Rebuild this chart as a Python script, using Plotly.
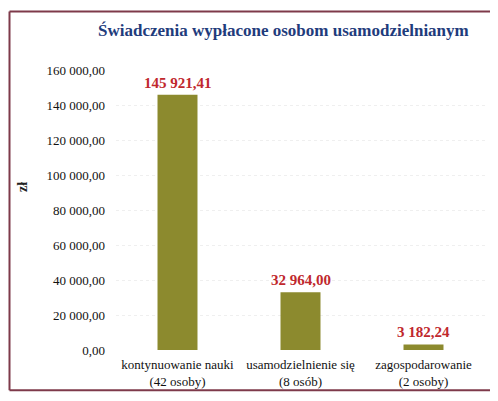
import plotly.graph_objects as go

categories = ["kontynuowanie nauki<br>(42 osoby)", "usamodzielnienie się<br>(8 osób)", "zagospodarowanie<br>(2 osoby)"]
values = [145921.41, 32964.00, 3182.24]
value_labels = ["145 921,41", "32 964,00", "3 182,24"]
tick_vals = [0, 20000, 40000, 60000, 80000, 100000, 120000, 140000, 160000]
tick_text = ["0,00", "20 000,00", "40 000,00", "60 000,00", "80 000,00", "100 000,00", "120 000,00", "140 000,00", "160 000,00"]

# the page body has a default 8px margin, so the figure is drawn 8px in from the window edge
OFF = 8
W, H = 498 - OFF, 401 - OFF
ML, MR, MT, MB = 116 - OFF, 13, 70 - OFF, 46
pw, ph = W - ML - MR, H - MT - MB

def px_to_paper_x(x):
    return (x - OFF - ML) / pw

def px_to_paper_y(y):
    return (H - MB - (y - OFF)) / ph

serif = "Liberation Serif"

fig = go.Figure()
fig.add_trace(go.Bar(
    x=categories, y=values,
    marker=dict(color="#8C8A2E", line=dict(width=0)),
    width=0.325,
    hoverinfo="skip",
))

for c, v, t in zip(categories, values, value_labels):
    fig.add_annotation(x=c, y=v, text=f"<b>{t}</b>", showarrow=False,
                       yanchor="bottom", yshift=2,
                       font=dict(family=serif, size=15, color="#C0282D"))

# outer frame
fx0, fx1 = px_to_paper_x(9.5), px_to_paper_x(494)
fy0, fy1 = px_to_paper_y(396), px_to_paper_y(10.5)
frame_line = dict(color="#7E3A4A", width=2)
for (a, b, c, d) in [(fx0, fy1, fx1, fy1), (fx0, fy0, fx1, fy0), (fx0, fy0, fx0, fy1), (fx1, fy0, fx1, fy1)]:
    fig.add_shape(type="line", xref="paper", yref="paper", x0=a, y0=b, x1=c, y1=d,
                  line=frame_line, layer="above")

fig.add_annotation(xref="paper", yref="paper",
                   x=px_to_paper_x(283), y=px_to_paper_y(30),
                   text="<b>Świadczenia wypłacone osobom usamodzielnianym</b>",
                   showarrow=False, xanchor="center", yanchor="middle",
                   font=dict(family=serif, size=17, color="#1F3C7C"))

fig.add_annotation(xref="paper", yref="paper",
                   x=px_to_paper_x(23), y=px_to_paper_y(189),
                   text="<b>zł</b>", textangle=-90,
                   showarrow=False, xanchor="center", yanchor="middle",
                   font=dict(family=serif, size=14, color="#222222"))

fig.update_layout(
    width=W, height=H,
    margin=dict(l=ML, r=MR, t=MT, b=MB),
    paper_bgcolor="white", plot_bgcolor="white",
    showlegend=False,
    font=dict(family=serif, size=13, color="#111111"),
    xaxis=dict(showline=False, ticks="", tickfont=dict(family=serif, size=13, color="#111111"),
               showgrid=False, ticklabelstandoff=5),
    yaxis=dict(range=[0, 160000], tickvals=tick_vals, ticktext=tick_text,
               showline=False, ticks="", zeroline=False,
               showgrid=True, gridcolor="#EFEFEF", griddash="dot",
               ticklabelstandoff=10,
               tickfont=dict(family=serif, size=13, color="#111111")),
)

fig.write_html("out.html", config={"displayModeBar": False})
